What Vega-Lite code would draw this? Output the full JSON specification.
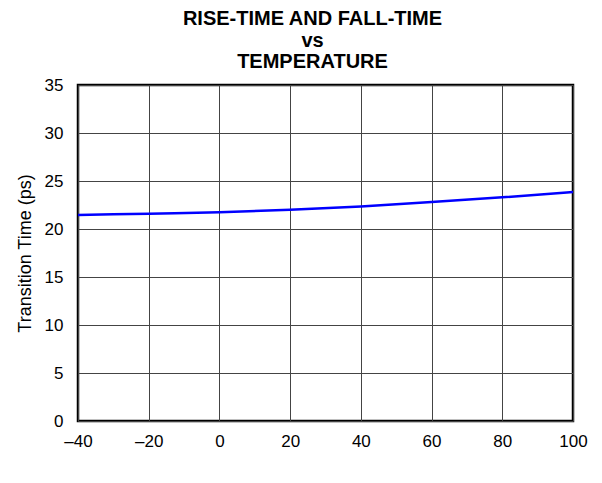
{
  "$schema": "https://vega.github.io/schema/vega-lite/v6.json",
  "width": 495,
  "height": 336,
  "autosize": {"type": "none"},
  "padding": {"left": 78, "top": 85, "right": 29, "bottom": 62},
  "background": "white",
  "title": {
    "text": ["RISE-TIME AND FALL-TIME", "vs", "TEMPERATURE"],
    "font": "Liberation Sans",
    "fontSize": 20,
    "fontWeight": "bold",
    "lineHeight": 21.5,
    "color": "black",
    "anchor": "middle",
    "dx": -13,
    "offset": 4
  },
  "data": {
    "values": [
      {"t": -40, "v": 21.45},
      {"t": -20, "v": 21.6},
      {"t": 0, "v": 21.75},
      {"t": 20, "v": 22.0},
      {"t": 40, "v": 22.35},
      {"t": 60, "v": 22.8},
      {"t": 80, "v": 23.3},
      {"t": 100, "v": 23.85}
    ]
  },
  "config": {
    "view": {"stroke": "black", "strokeWidth": 2.5},
    "axis": {
      "labelFont": "Liberation Sans",
      "labelFontSize": 17,
      "labelColor": "black",
      "titleFont": "Liberation Sans",
      "titleFontWeight": "normal",
      "titleColor": "black",
      "gridColor": "#444",
      "gridWidth": 1,
      "gridOpacity": 1,
      "domain": false,
      "ticks": false
    }
  },
  "mark": {"type": "line", "color": "#0000ff", "strokeWidth": 2.5, "interpolate": "monotone"},
  "encoding": {
    "x": {
      "field": "t",
      "type": "quantitative",
      "scale": {"domain": [-40, 100], "nice": false},
      "axis": {"values": [-40, -20, 0, 20, 40, 60, 80, 100], "title": null, "labelPadding": 12, "labelExpr": "replace(datum.label, '−', '–')", "labelFlush": false}
    },
    "y": {
      "field": "v",
      "type": "quantitative",
      "scale": {"domain": [0, 35], "nice": false},
      "axis": {"values": [0, 5, 10, 15, 20, 25, 30, 35], "title": "Transition Time (ps)", "titleFontSize": 18, "titlePadding": 10, "labelPadding": 15}
    }
  }
}
